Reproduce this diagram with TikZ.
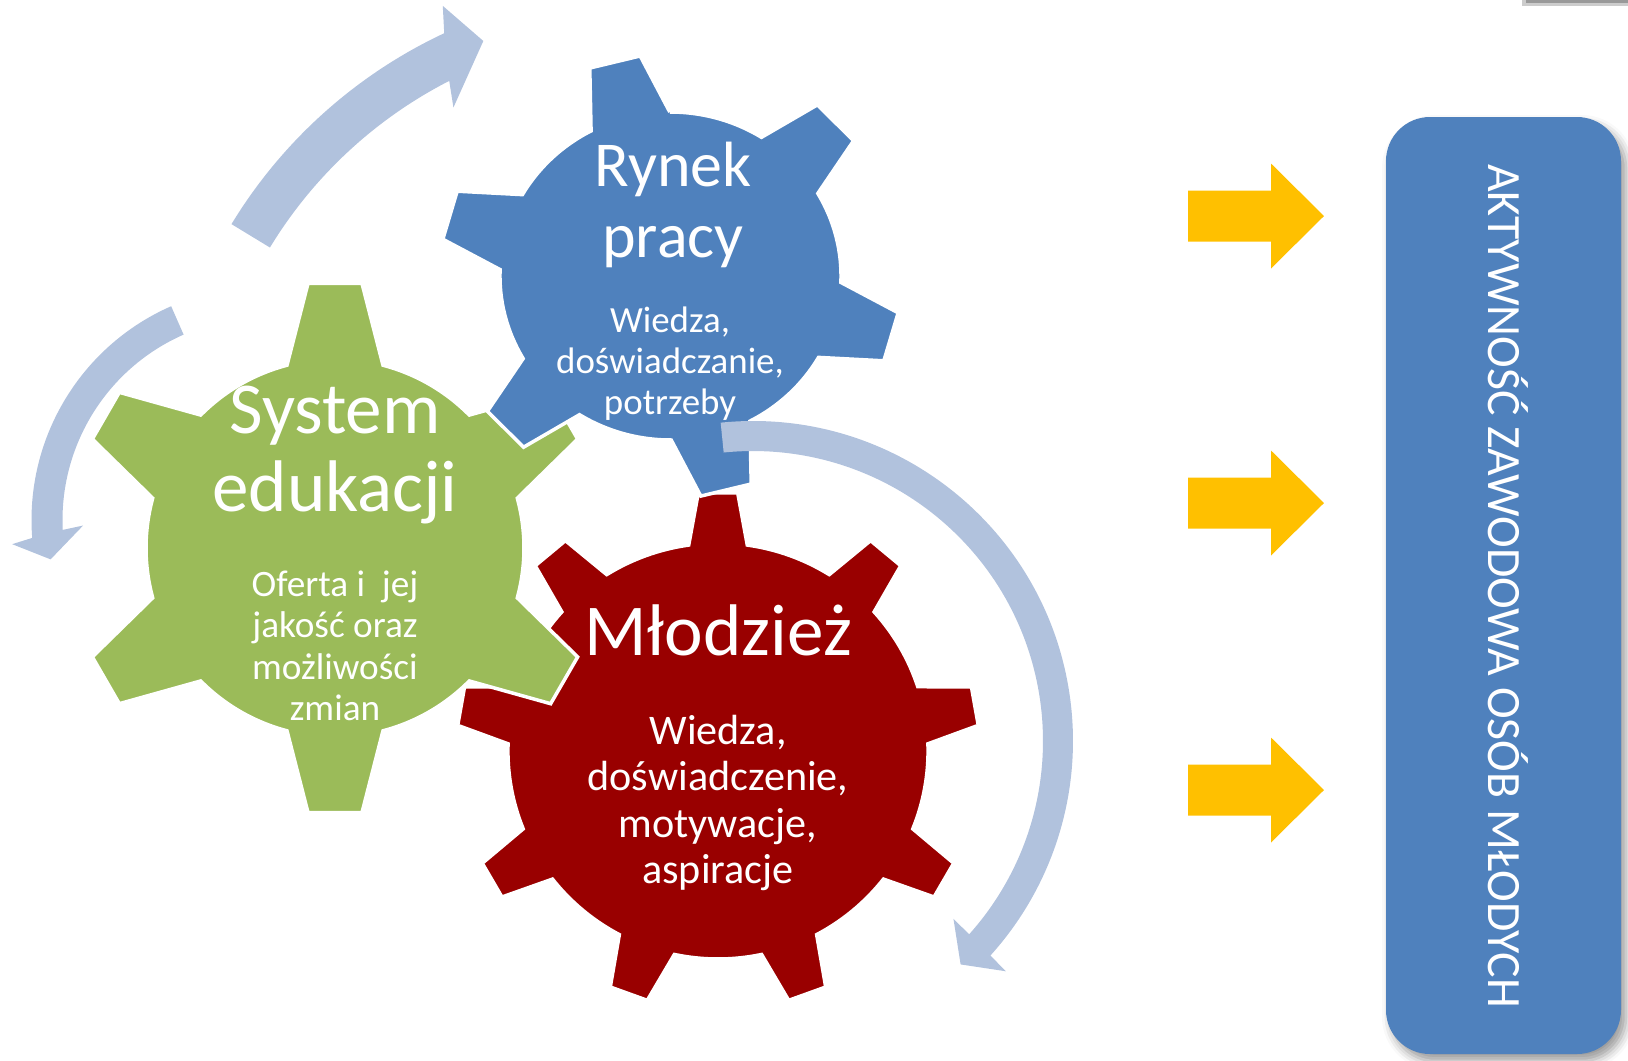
\documentclass[tikz,border=0pt]{standalone}
\usepackage{fontspec}
\setmainfont{Carlito}
\usepackage{tikz}
\usetikzlibrary{shadows.blur}

\definecolor{gearblue}{RGB}{79,129,189}
\definecolor{geargreen}{RGB}{155,187,89}
\definecolor{gearred}{RGB}{153,0,0}
\definecolor{ringblue}{RGB}{177,194,221}
\definecolor{arrowgold}{RGB}{255,192,0}

% gear: centre, teeth, first tooth, body radius, tip radius, half width at body, half width at tip, colour, xscale
\newcommand{\drawgear}[9]{
  \pgfmathsetmacro{\gearbase}{asin(#6/#4)}
  \pgfmathsetmacro{\geartip}{asin(#7/#5)}
  \pgfmathsetmacro{\gearstep}{360/#2}
  \pgfmathtruncatemacro{\gearlast}{#2-1}
  \filldraw[gear, fill=#8, shift={#1}, xscale=#9] ({#3-\gearbase}:#4)
    \foreach \k [evaluate=\k as \toothangle using #3+\k*\gearstep] in {0,...,\gearlast} {
      -- ({\toothangle-\geartip}:#5) -- ({\toothangle+\geartip}:#5) -- ({\toothangle+\gearbase}:#4)
      arc[start angle={\toothangle+\gearbase}, end angle={\toothangle+\gearstep-\gearbase}, radius=#4]
    } -- cycle;
}

% curved arrow: centre, radius, half width, start angle, outer end, inner end, head half width, tip angle
\newcommand{\ringarrow}[8]{
  \pgfmathsetmacro{\barbout}{(#5)-((#6)-(#5))*((#7)-(#3))/(2*(#3))}
  \pgfmathsetmacro{\barbin}{(#6)+((#6)-(#5))*((#7)-(#3))/(2*(#3))}
  \fill[ring, shift={#1}] ({#4}:{#2+#3}) arc[start angle=#4, end angle=#5, radius=#2+#3]
    -- ({\barbout}:{#2+#7}) -- ({#8}:{#2}) -- ({\barbin}:{#2-#7}) -- ({#6}:{#2-#3})
    arc[start angle=#6, end angle=#4, radius=#2-#3] -- cycle;
}

\begin{document}
\begin{tikzpicture}[x=0.1mm, y=0.1mm,
  gear/.style={draw=white, line width=1pt, line join=miter},
  ring/.style={fill=ringblue},
  caption/.style={text=white, align=center, inner sep=0pt}]
\useasboundingbox (0,0) rectangle (1628,-1060);

% the three gears, back to front
\drawgear{(718,-751)}{9}{10}{208}{259}{29}{19.5}{gearred}{1.01}
\drawgear{(335,-548)}{6}{90}{189}{266}{48}{27}{geargreen}{1}
\drawgear{(670.5,-276)}{6}{104}{164}{222}{39}{25}{gearblue}{1.04}

% gear texts
\node[caption, font=\fontsize{20.8}{22.2}\selectfont] (edu title) at (335,-455) {System\\edukacji};
\node[caption, font=\fontsize{10.6}{11.8}\selectfont] (edu text) at (335,-646) {Oferta i\ \ jej\\jakość oraz\\możliwości\\zmian};
\node[caption, font=\fontsize{18.2}{20.1}\selectfont] (market title) at (673,-205) {Rynek\\pracy};
\node[caption, font=\fontsize{10.5}{11.7}\selectfont] (market text) at (670,-363.5) {Wiedza,\\doświadczanie,\\potrzeby};
\node[caption, font=\fontsize{20.8}{22.2}\selectfont] (youth title) at (718,-630) {Młodzież};
\node[caption, font=\fontsize{12}{13.2}\selectfont] (youth text) at (718,-803) {Wiedza,\\doświadczenie,\\motywacje,\\aspiracje};

% circular arrows
\ringarrow{(654,-481)}{472}{22.5}{148.7}{115.1}{117.1}{48}{111.2}
\ringarrow{(265,-520)}{218}{15.5}{113.7}{184.4}{182.8}{36}{190.4}
\ringarrow{(753,-741)}{305}{15}{95.8}{-42.1}{-41.8}{37}{-47.1}

% yellow arrows
\foreach \y in {216, 503, 790} {
  \fill[arrowgold] (1188,{25.5-\y}) -- (1271,{25.5-\y}) -- (1271,{52.5-\y}) -- (1324,{-\y})
    -- (1271,{-52.5-\y}) -- (1271,{-25.5-\y}) -- (1188,{-25.5-\y}) -- cycle;
}

% result box
\fill[gearblue, rounded corners=4.4mm,
  blur shadow={shadow xshift=0.5mm, shadow yshift=-0.7mm, shadow blur radius=0.9mm}]
  (1386,-117) rectangle (1621,-1054);
\node[caption, rotate=-90, font=\fontsize{13.6}{16}\selectfont] (result text) at (1508.5,-586)
  {AKTYWNOŚĆ ZAWODOWA OSÓB MŁODYCH};

% edge of a box above the page
\fill[black!20] (1522,0) rectangle (1628,-6);
\fill[black!40] (1526,0) rectangle (1628,-2.5);

\end{tikzpicture}
\end{document}
